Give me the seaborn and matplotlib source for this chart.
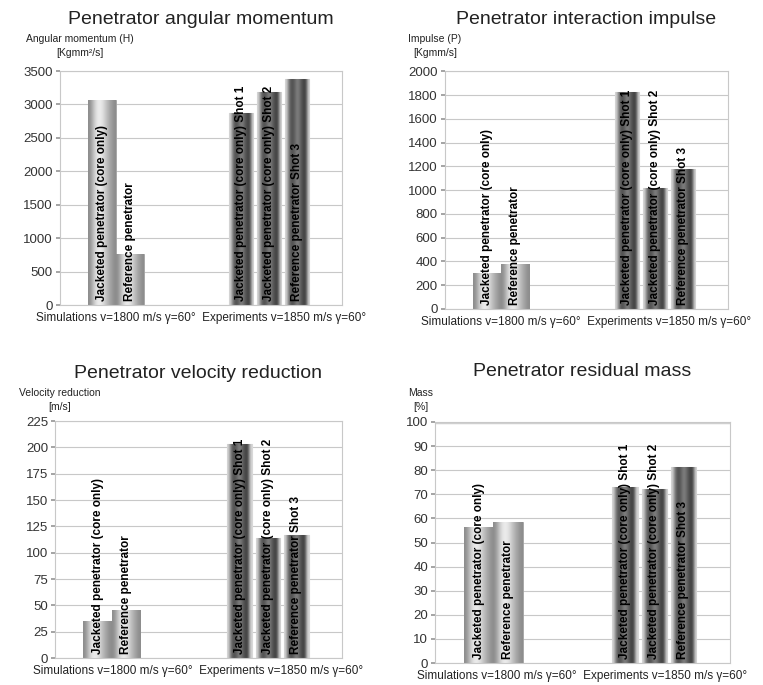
import numpy as np
import pandas as pd
import matplotlib
matplotlib.use("Agg")
import matplotlib.pyplot as plt
import seaborn as sns

# --- dados ---
sim_labels = ["Jacketed penetrator (core only)", "Reference penetrator"]
exp_labels = ["Jacketed penetrator (core only) Shot 1",
              "Jacketed penetrator (core only) Shot 2",
              "Reference penetrator Shot 3"]

ang_sim = [3060, 760]
ang_exp = [2870, 3190, 3380]

imp_sim = [305, 375]
imp_exp = [1825, 1020, 1180]

vel_sim = [35, 46]
vel_exp = [203, 114, 117]

mass_sim = [56.5, 58.5]
mass_exp = [73, 72, 81.5]

titulos = ["Penetrator angular momentum", "Penetrator interaction impulse",
           "Penetrator velocity reduction", "Penetrator residual mass"]
rotulos_y = ["Angular momentum (H)\n[Kgmm²/s]", "Impulse (P)\n[Kgmm/s]",
             "Velocity reduction\n[m/s]", "Mass\n[%]"]
rotulo_x = "Simulations v=1800 m/s γ=60°  Experiments v=1850 m/s γ=60°"

ylims = [(0, 3500, 500), (0, 2000, 200), (0, 225, 25), (0, 100, 10)]

sns.set_theme(style="white")
plt.rcParams['font.family'] = ['Liberation Sans', 'DejaVu Sans']

fig = plt.figure(figsize=(7.63, 6.85), dpi=100)
eixos = [
    fig.add_axes([0.0786, 0.5547, 0.3696, 0.3416]),
    fig.add_axes([0.583, 0.549, 0.371, 0.347]),
    fig.add_axes([0.072, 0.0394, 0.376, 0.346]),
    fig.add_axes([0.570, 0.032, 0.387, 0.352]),
]
# posicao do rotulo do eixo y (fracao do eixo) e deslocamento do titulo
pos_ylabel = [(0.07, 1.055), (-0.035, 1.055), (0.017, 1.038), (-0.047, 1.041)]
pads = [34, 34, 31, 33]

ordem = sim_labels + [" ", "  ", "   "] + exp_labels

perfil_sim = [0.55, 0.7, 0.86, 0.93, 0.9, 0.8, 0.7, 0.62, 0.55]
perfil_exp = [0.85, 0.45, 0.3, 0.38, 0.52, 0.4, 0.28, 0.25, 0.85]


def sombrear(ax, patches, perfil):
    # gradiente "cilindrico" estilo Excel dentro de cada barra
    grad = np.array(perfil)[None, :]
    for p in patches:
        x0, y0 = p.get_x(), p.get_y()
        x1, y1 = x0 + p.get_width(), y0 + p.get_height()
        im = ax.imshow(grad, extent=[x0, x1, y0, y1], aspect='auto',
                       cmap='gray', vmin=0, vmax=1, interpolation='bicubic',
                       zorder=2)
        im.set_clip_path(p)


series = [(ang_sim, ang_exp), (imp_sim, imp_exp), (vel_sim, vel_exp), (mass_sim, mass_exp)]

for k, ax in enumerate(eixos):
    sim, exp = series[k]
    df_sim = pd.DataFrame({'item': sim_labels, 'valor': sim})
    df_exp = pd.DataFrame({'item': exp_labels, 'valor': exp})

    sns.barplot(data=df_sim, x='item', y='valor', order=ordem, width=1.0,
                color='#b8b8b8', edgecolor='#a0a0a0', linewidth=0.6,
                ax=ax, zorder=2)
    n0 = len(ax.patches)
    sns.barplot(data=df_exp, x='item', y='valor', order=ordem, width=0.86,
                color='#505050', edgecolor='#d8d8d8', linewidth=0.8,
                ax=ax, zorder=2)
    sombrear(ax, ax.patches[:n0], perfil_sim)
    sombrear(ax, ax.patches[n0:], perfil_exp)

    lo, hi, passo = ylims[k]
    ax.set_ylim(lo, hi)
    ax.set_yticks(np.arange(lo, hi + passo / 2, passo))
    ax.set_xlim(-1.5, 8.6)
    ax.set_xticks([])
    ax.yaxis.grid(True, color='#c8c8c8', linewidth=0.8, zorder=0)
    ax.set_axisbelow(True)
    ax.tick_params(axis='y', labelsize=9.5, labelcolor='#333333', length=3,
                   color='#999999', left=True, pad=2)
    for s in ax.spines.values():
        s.set_color('#c8c8c8')
        s.set_linewidth(0.8)

    ax.set_ylabel('')
    ax.set_xlabel(rotulo_x, fontsize=8.5, labelpad=5, color='#222222')
    ax.set_title(titulos[k], fontsize=14, pad=pads[k], color='#222222')
    xl, yl = pos_ylabel[k]
    ax.text(xl, yl, rotulos_y[k], transform=ax.transAxes, ha='center',
            va='bottom', fontsize=7.5, color='#222222', linespacing=1.5)

    # rotulos verticais dentro das barras
    for lab in sim_labels + exp_labels:
        i = ordem.index(lab)
        ax.annotate(lab, (i, 0), xytext=(0, 3), textcoords='offset points',
                    rotation=90, ha='center', va='bottom', fontsize=8.5,
                    fontweight='bold', color='black', zorder=4)

# linha superior mais grossa no grafico de massa
eixos[3].axhline(100, color='#d0d0d0', linewidth=2.5, zorder=1)

plt.savefig('out.png', dpi=100)
